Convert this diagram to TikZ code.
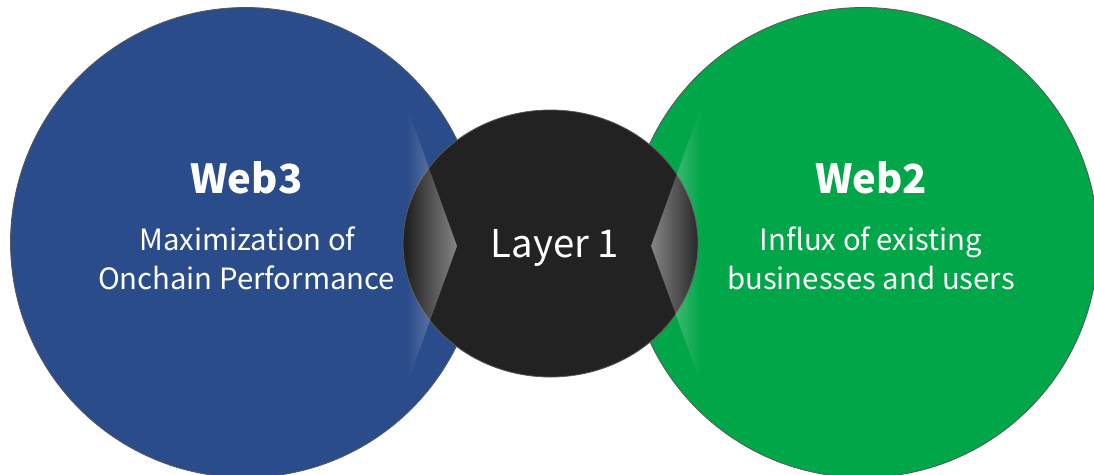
\documentclass[tikz,border=0pt]{standalone}
\usepackage{fontspec}
\setmainfont{Noto Sans CJK KR}
\usetikzlibrary{shapes.geometric,fadings}
\definecolor{webblue}{HTML}{2B4C8B}
\definecolor{webgreen}{HTML}{00A647}
\definecolor{layerblack}{HTML}{222222}
\tikzfading[name=fadetoright, left color=transparent!100, right color=transparent!55]
\tikzfading[name=fadetoleft, left color=transparent!55, right color=transparent!100]
\begin{document}
\begin{tikzpicture}[x=1pt,y=-1pt,
  bigcircle/.style={circle, minimum size=470pt, inner sep=0pt, draw=black!65, line width=0.8pt},
  layercircle/.style={ellipse, minimum width=295pt, minimum height=267pt, inner sep=0pt, fill=layerblack, draw=black!65, line width=0.8pt},
  titletext/.style={text=white, anchor=base, inner sep=0pt, font=\fontsize{40}{48}\selectfont\bfseries},
  subtext/.style={text=white, anchor=base, inner sep=0pt, font=\fontsize{29.3}{35}\selectfont},
  layertext/.style={text=white, anchor=base, inner sep=0pt, font=\fontsize{38.3}{46}\selectfont},
  glow/.style={white}]
\useasboundingbox (0,0) rectangle (1094,474);
\fill[white] (0,0) rectangle (1094,474);
\clip (0,0) rectangle (1094,474);
\node[bigcircle, fill=webblue] (web3) at (245.5,242.5) {};
\node[bigcircle, fill=webgreen] (web2) at (863,242.5) {};
\node[layercircle] (layer) at (550.5,243.5) {};
\fill[glow, path fading=fadetoright] (407,107) -- (457,246) -- (407,384) -- cycle;
\fill[glow, path fading=fadetoleft] (701,107) -- (651,246) -- (701,384) -- cycle;
\node[titletext] (t3) at (246.5,193) {Web3};
\node[subtext] (s3a) at (247.5,250) {Maximization of};
\node[subtext] (s3b) at (246.5,289) {Onchain Performance};
\node[layertext] (l1) at (555,257) {Layer 1};
\node[titletext] (t2) at (871,193) {Web2};
\node[subtext] (s2a) at (871,250) {Influx of existing};
\node[subtext] (s2b) at (871,289) {businesses and users};
\end{tikzpicture}
\end{document}
